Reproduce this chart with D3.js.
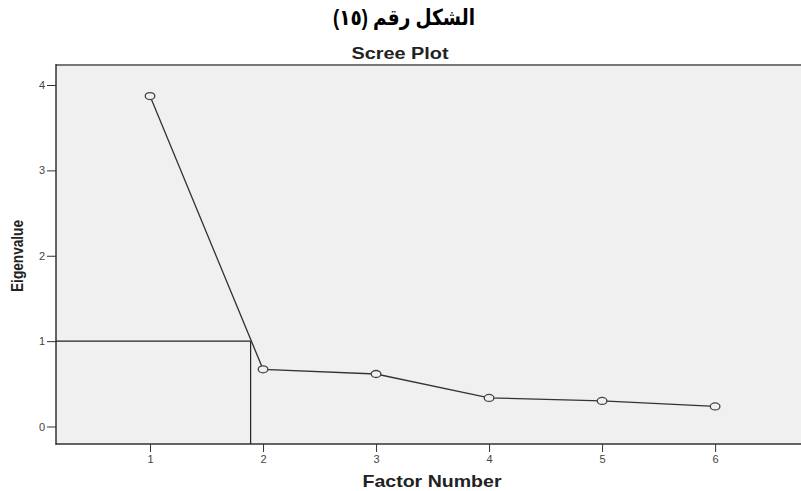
<!DOCTYPE html>
<html><head><meta charset="utf-8">
<script src="https://cdn.jsdelivr.net/npm/d3@7"></script>
<style>body{margin:0;background:#fff}svg{display:block}</style>
</head><body>
<script>
const factors = [1, 2, 3, 4, 5, 6];
const eigenvalues = [3.87, 0.67, 0.615, 0.335, 0.30, 0.235];
const yTicks = [0, 1, 2, 3, 4];
const cutoffX = 1.89;
const cutoffY = 1;

(function () {
const W = 801, H = 491;
const svg = d3.select("body").append("svg").attr("width", W).attr("height", H);
const pL = 56, pR = 801, pT = 65, pB = 444;

const x = d3.scaleLinear().domain([0.168, 6.76]).range([pL, pR]);
const y = d3.scaleLinear().domain([0, 4]).range([426.5, 85]);

svg.append("rect").attr("x", pL).attr("y", pT).attr("width", pR - pL).attr("height", pB - pT).attr("fill", "#f0f0f0");

svg.append("line").attr("x1", pL).attr("x2", pR).attr("y1", pT).attr("y2", pT).attr("stroke", "#777").attr("stroke-width", 2);
svg.append("line").attr("x1", pL).attr("x2", pL).attr("y1", pT - 1).attr("y2", pB + 1).attr("stroke", "#333").attr("stroke-width", 1.5);
svg.append("line").attr("x1", pL).attr("x2", pR).attr("y1", pB).attr("y2", pB).attr("stroke", "#333").attr("stroke-width", 1.5);

const font = "Liberation Sans, Arial, sans-serif";
const yAxis = d3.axisLeft(y).tickValues(yTicks).tickSize(9).tickPadding(2).tickFormat(d3.format("d"));
const gy = svg.append("g").attr("transform", `translate(${pL},0)`).call(yAxis);
gy.select(".domain").remove();
gy.selectAll("line").attr("stroke", "#333");
gy.selectAll("text").attr("font-family", font).attr("font-size", 11).attr("fill", "#444");

const xAxis = d3.axisBottom(x).tickValues(factors).tickSize(8).tickPadding(3).tickFormat(d3.format("d"));
const gx = svg.append("g").attr("transform", `translate(0,${pB})`).call(xAxis);
gx.select(".domain").remove();
gx.selectAll("line").attr("stroke", "#333");
gx.selectAll("text").attr("font-family", font).attr("font-size", 11).attr("fill", "#444");

svg.append("line").attr("x1", pL).attr("x2", x(cutoffX)).attr("y1", y(cutoffY)).attr("y2", y(cutoffY)).attr("stroke", "#222").attr("stroke-width", 1.2);
svg.append("line").attr("x1", x(cutoffX)).attr("x2", x(cutoffX)).attr("y1", y(cutoffY)).attr("y2", pB).attr("stroke", "#222").attr("stroke-width", 1.2);

const data = factors.map((f, i) => ({f, v: eigenvalues[i]}));
svg.append("path").datum(data)
  .attr("d", d3.line().x(d => x(d.f)).y(d => y(d.v)))
  .attr("fill", "none").attr("stroke", "#333").attr("stroke-width", 1.3);
svg.selectAll("ellipse.pt").data(data).enter().append("ellipse")
  .attr("cx", d => x(d.f)).attr("cy", d => y(d.v)).attr("rx", 4.8).attr("ry", 3.5)
  .attr("fill", "#f0f0f0").attr("stroke", "#444").attr("stroke-width", 1.3);

svg.append("text").attr("x", 404).attr("y", 25).attr("text-anchor", "middle")
  .attr("font-family", "Liberation Sans, DejaVu Sans, sans-serif").attr("font-weight", "bold").attr("font-size", 22).attr("fill", "#000")
  .attr("direction", "rtl").attr("textLength", 142).attr("lengthAdjust", "spacingAndGlyphs").text("الشكل رقم (١٥)");
svg.append("text").attr("x", 400).attr("y", 59).attr("text-anchor", "middle")
  .attr("font-family", font).attr("font-weight", "bold").attr("font-size", 16).attr("fill", "#222")
  .attr("textLength", 97).attr("lengthAdjust", "spacingAndGlyphs").text("Scree Plot");
svg.append("text").attr("x", 432).attr("y", 487).attr("text-anchor", "middle")
  .attr("font-family", font).attr("font-weight", "bold").attr("font-size", 17).attr("fill", "#222")
  .attr("textLength", 139).attr("lengthAdjust", "spacingAndGlyphs").text("Factor Number");
svg.append("text").attr("transform", "translate(23,256) rotate(-90)").attr("text-anchor", "middle")
  .attr("font-family", font).attr("font-weight", "bold").attr("font-size", 16).attr("fill", "#222")
  .attr("textLength", 72).attr("lengthAdjust", "spacingAndGlyphs").text("Eigenvalue");
})();
</script>
</body></html>
